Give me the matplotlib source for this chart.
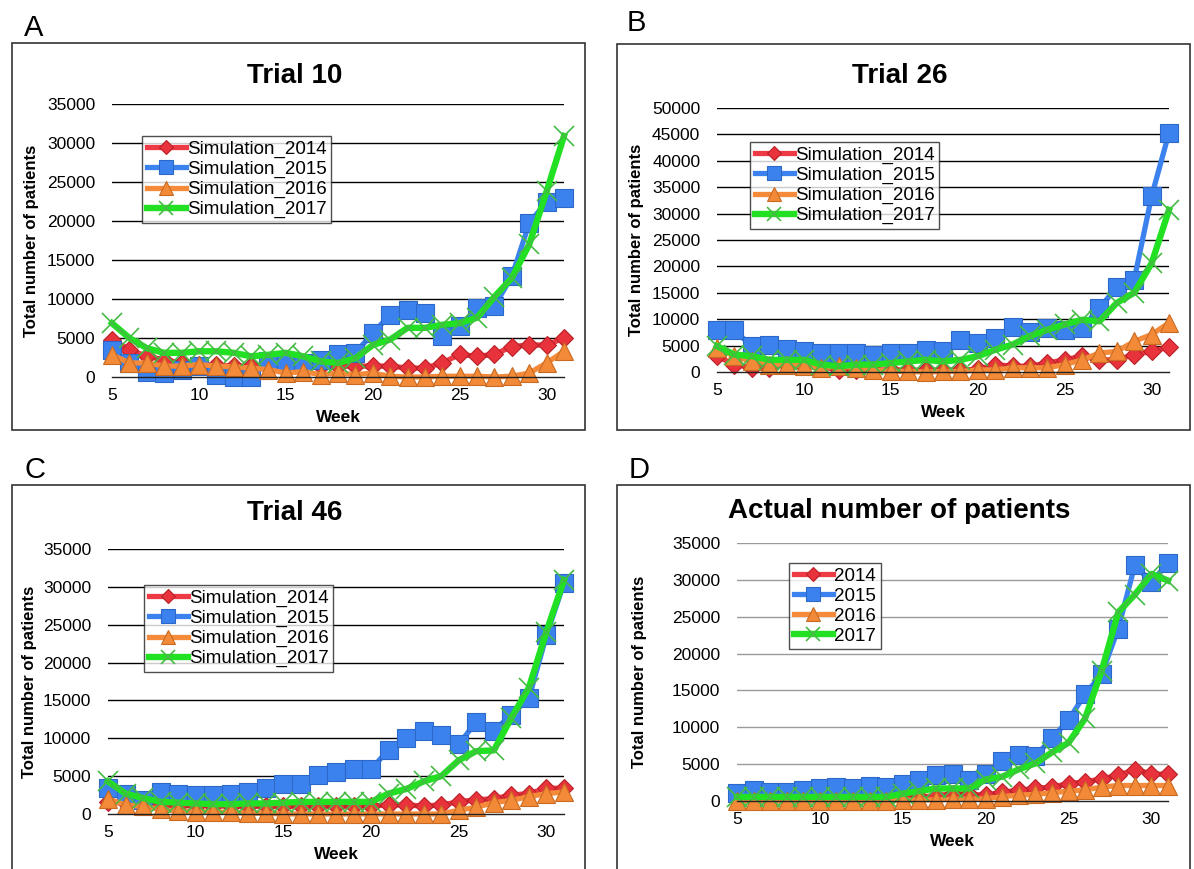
import matplotlib
matplotlib.use('Agg')
import matplotlib.pyplot as plt
from matplotlib.patches import Rectangle

plt.rcParams['font.family'] = ['Liberation Sans', 'DejaVu Sans']

# Данные: недели и число пациентов по каждому сезону
weeks = list(range(5, 32))

t10_2014 = [4800, 3500, 2650, 2200, 1800, 1600, 1500, 1400, 1400, 1500, 1600, 1500, 1400, 1400,
            1400, 1400, 1400, 1150, 1150, 1800, 2900, 2650, 2900, 3900, 4100, 4100, 5000]
t10_2015 = [3500, 1800, 700, 500, 900, 1400, 300, 0, 0, 2000, 2000, 1800, 2200, 2900,
            3100, 5600, 8000, 8600, 8200, 5200, 6500, 8800, 9100, 12900, 19700, 22500, 22950]
t10_2016 = [2850, 1800, 1800, 1400, 1400, 1600, 1400, 1300, 1150, 950, 500, 700, 300, 500,
            300, 500, 100, 0, 0, 100, 100, 100, 0, 100, 500, 1800, 3300]
t10_2017 = [6900, 5000, 3700, 3100, 3100, 3300, 3300, 3100, 2650, 2850, 3100, 2650, 2000, 1800,
            2400, 4100, 4800, 6300, 6300, 6700, 6900, 7600, 10300, 12700, 17000, 23800, 30900]

t26_2014 = [3000, 1400, 800, 800, 1400, 1100, 1000, 400, 300, 400, 400, 400, 300, 400,
            400, 500, 1400, 1100, 1100, 1700, 2300, 3000, 2300, 2300, 3300, 3900, 4700]
t26_2015 = [8000, 7900, 4900, 5200, 4400, 3900, 3600, 3600, 3600, 3300, 3600, 3600, 4200, 3900,
            6100, 5500, 6400, 8600, 7600, 8300, 8000, 8300, 12100, 16100, 17500, 33300, 45300]
t26_2016 = [4500, 3000, 2000, 1400, 1400, 1100, 800, 1100, 800, 400, 100, 100, 0, 100,
            100, 400, 400, 800, 800, 800, 1400, 2300, 3600, 3900, 5800, 7100, 9300]
t26_2017 = [4900, 3300, 3000, 2300, 2300, 2300, 1400, 1100, 1400, 1400, 1700, 2000, 2300, 2000,
            2300, 3000, 4200, 5200, 6800, 8000, 9000, 9900, 9600, 13100, 15000, 20600, 30700]

t46_2014 = [1600, 1400, 1300, 1200, 1100, 1100, 1100, 1000, 1000, 1000, 1000, 1000, 1000, 1000,
            1000, 1050, 1200, 1200, 1050, 1200, 1600, 1900, 2000, 2500, 2700, 3400, 3400]
t46_2015 = [3400, 2700, 1800, 2900, 2700, 2500, 2500, 2700, 2900, 3400, 4000, 4000, 5150, 5600,
            6000, 5900, 8500, 10100, 10900, 10500, 9200, 12200, 11000, 13100, 15300, 23600, 30500]
t46_2016 = [2000, 1200, 1000, 600, 400, 300, 300, 200, 100, 100, 0, 0, 0, 0,
            0, 0, 0, 0, 0, 0, 500, 900, 1500, 1800, 2300, 2700, 2900]
t46_2017 = [4300, 2700, 2100, 1600, 1500, 1400, 1300, 1300, 1400, 1400, 1500, 1600, 1600, 1600,
            1600, 1600, 2700, 3300, 4300, 5000, 7100, 8300, 8400, 12700, 16700, 24100, 30900]

act_2014 = [300, 300, 300, 300, 300, 300, 300, 300, 300, 300, 450, 550, 700, 1000,
            900, 800, 1200, 1450, 1700, 1900, 2350, 2600, 3000, 3500, 4250, 3700, 3600]
act_2015 = [1100, 1500, 1200, 1200, 1450, 1750, 1900, 1750, 2100, 1900, 2250, 2800, 3500, 3600,
            2800, 3700, 5400, 6300, 6100, 8500, 11000, 14500, 17200, 23400, 32000, 29700, 32300]
act_2016 = [0, 0, 0, 0, 0, 0, 0, 0, 0, 0, 100, 150, 150, 250,
            250, 300, 600, 800, 900, 1100, 1350, 1500, 1900, 2100, 2100, 2100, 2100]
act_2017 = [550, 550, 550, 550, 550, 550, 550, 550, 550, 550, 1000, 1350, 1700, 1700,
            1700, 2900, 3300, 4300, 5100, 6600, 7900, 11200, 17700, 25600, 28000, 30800, 29900]

W, H = 1194, 869

# стили серий: (цвет линии, маркер, размер, цвет маркера, кромка, толщина линии)
styles = [
    ('#EE3A44', 'D', 9.5, '#E8323C', '#B82028', 3.8),
    ('#3C82EE', 's', 13.5, '#3C82EE', '#2C68C8', 3.8),
    ('#F48A3A', '^', 13.5, '#F28A38', '#C86A22', 3.8),
    ('#22E022', 'x', 14, '#45BB45', '#45BB45', 4.6),
]

panels = [
    # буква, её позиция, рамка, оси в px (лево, верх, право, низ), заголовок, y заголовка, ymax,
    # серии, префикс легенды, позиция легенды, цвет сетки, x подписи оси y
    ('A', (24, 36), (12, 43, 585, 430), (112, 104, 564, 377), 'Trial 10', 76, 35000,
     [t10_2014, t10_2015, t10_2016, t10_2017], 'Simulation_', (142, 136), 'black', 39),
    ('B', (627, 31), (617, 44, 1190, 430), (717, 108, 1169, 372), 'Trial 26', 76, 50000,
     [t26_2014, t26_2015, t26_2016, t26_2017], 'Simulation_', (750, 142), 'black', 644),
    ('C', (24, 478), (12, 485, 585, 900), (108, 549, 564, 814), 'Trial 46', 513, 35000,
     [t46_2014, t46_2015, t46_2016, t46_2017], 'Simulation_', (144, 585), 'black', 37),
    ('D', (629, 478), (617, 485, 1190, 900), (737, 543, 1168, 801), 'Actual number of patients', 511, 35000,
     [act_2014, act_2015, act_2016, act_2017], '', (789, 563), '#9A9A9A', 647),
]
years = ['2014', '2015', '2016', '2017']

fig = plt.figure(figsize=(W / 100, H / 100), dpi=100)

for letter, lpos, box, apx, title, ty, ymax, series, prefix, lgpos, gcol, ylx in panels:
    bx0, by0, bx1, by1 = box
    fig.patches.append(Rectangle((bx0 / W, 1 - by1 / H), (bx1 - bx0) / W, (by1 - by0) / H,
                                 transform=fig.transFigure, fill=False, edgecolor='#333333', lw=1.2))
    fig.text(lpos[0] / W, 1 - lpos[1] / H, letter, fontsize=21, va='baseline', ha='left')
    fig.text(((bx0 + bx1) / 2 - 4) / W, 1 - ty / H, title, fontsize=20, fontweight='bold',
             ha='center', va='center')

    l, t, r, b = apx
    ax = fig.add_axes([l / W, 1 - b / H, (r - l) / W, (b - t) / H])
    ax.set_xlim(5, 31)
    ax.set_ylim(0, ymax)
    ax.set_yticks(range(0, ymax + 1, 5000))
    ax.set_xticks([5, 10, 15, 20, 25, 30])
    ax.set_xticks([5, 30], minor=True)
    ax.tick_params(axis='both', which='major', length=0, labelsize=12.5)
    ax.tick_params(axis='y', pad=12)
    ax.tick_params(axis='x', pad=8)
    ax.tick_params(axis='x', which='minor', direction='in', length=4, width=1, color='#222222')
    for s in ['top', 'right', 'left']:
        ax.spines[s].set_visible(False)
    ax.spines['bottom'].set_color('#222222')
    ax.spines['bottom'].set_linewidth(1.0)
    for v in range(5000, ymax + 1, 5000):
        ax.axhline(v, color=gcol, lw=1.0, zorder=0)

    for vals, yr, (lc, mk, ms, mfc, mec, lw) in zip(series, years, styles):
        if mk == 'x':
            ax.plot(weeks, vals, color=lc, lw=lw, marker=mk, ms=ms, mec=mec, mew=1.2,
                    label=prefix + yr, clip_on=False)
        else:
            ax.plot(weeks, vals, color=lc, lw=lw, marker=mk, ms=ms, mfc=mfc, mec=mec, mew=0.8,
                    label=prefix + yr, clip_on=False)

    ax.set_xlabel('Week', fontsize=12.5, fontweight='bold', labelpad=5)
    ax.set_ylabel('Total number of patients', fontsize=12, fontweight='bold')
    ax.yaxis.set_label_coords((ylx - l) / (r - l), 0.5)

    leg = ax.legend(loc='upper left', bbox_to_anchor=(lgpos[0] / W, 1 - lgpos[1] / H),
                    bbox_transform=fig.transFigure, fontsize=13.5, frameon=True, fancybox=False,
                    borderaxespad=0, borderpad=0.25, labelspacing=0.15, handlelength=2.1,
                    handletextpad=0.05, markerscale=0.72)
    leg.get_frame().set_edgecolor('#222222')
    leg.get_frame().set_linewidth(1.0)

fig.savefig('out.png', dpi=100)
